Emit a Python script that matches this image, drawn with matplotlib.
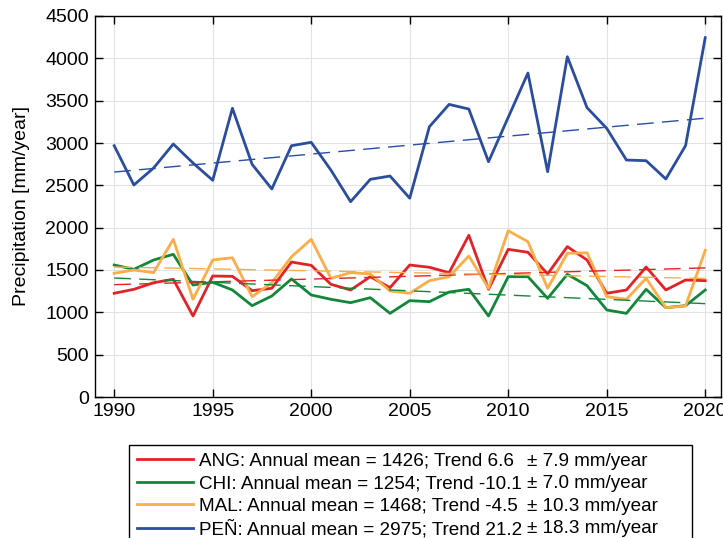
import matplotlib
matplotlib.use("Agg")
import matplotlib.pyplot as plt
from matplotlib.lines import Line2D
import numpy as np

plt.rcParams['font.family'] = ['Liberation Sans', 'DejaVu Sans']

years = list(range(1990, 2021))
ang = [1225, 1272, 1350, 1390, 957, 1429, 1425, 1256, 1284, 1594, 1555, 1331, 1264, 1421, 1291, 1559,
       1532, 1468, 1910, 1272, 1744, 1709, 1453, 1776, 1618, 1225, 1264, 1535, 1264, 1382, 1374]
chi = [1559, 1508, 1618, 1685, 1323, 1355, 1264, 1079, 1193, 1394, 1205, 1154, 1114, 1173, 988, 1138,
       1126, 1240, 1272, 957, 1421, 1421, 1165, 1449, 1315, 1028, 988, 1272, 1055, 1079, 1264]
mal = [1461, 1500, 1469, 1862, 1154, 1618, 1645, 1185, 1350, 1657, 1862, 1402, 1469, 1453, 1252, 1225,
       1374, 1421, 1665, 1284, 1964, 1834, 1284, 1697, 1704, 1185, 1154, 1402, 1055, 1075, 1732]
pen = [2968, 2504, 2705, 2988, 2764, 2560, 3410, 2748, 2457, 2968, 3008, 2680, 2307, 2571, 2610, 2348,
       3193, 3456, 3401, 2779, 3303, 3826, 2661, 4019, 3417, 3173, 2799, 2791, 2575, 2968, 4244]

names = ['ANG', 'CHI', 'MAL', 'PEÑ']
means = [1426, 1254, 1468, 2975]
trends = [6.6, -10.1, -4.5, 21.2]
errs = [7.9, 7.0, 10.3, 18.3]
colors = ['#e42127', '#12873a', '#fbad48', '#2a4d9f']
series = [ang, chi, mal, pen]

fig = plt.figure(figsize=(7.23, 5.38), dpi=100)
ax = fig.add_axes([94.5/723, 1-397/538, (721-94.5)/723, (397-16)/538])

yr = np.array(years, dtype=float)
handles = []
labels = []
for name, vals, m, t, c in zip(names, series, means, trends, colors):
    h, = ax.plot(years, vals, color=c, lw=2.0)
    handles.append(h)
    labels.append(f"{name}: Annual mean = {m}; Trend {t:g}")
for m, t, c in zip(means, trends, colors):
    ax.plot(yr, m + t*(yr - yr.mean()), color=c, lw=1.0, dashes=(12, 6))

# second legend column: the "± error" part, aligned as in the reference
for e in errs:
    handles.append(Line2D([], [], linestyle='none'))
    labels.append(f"\u00b1 {e:.1f} mm/year     ")

ax.set_xlim(1989, 2020.8)
ax.set_ylim(0, 4500)
ax.set_xticks(range(1990, 2021, 5))
ax.set_yticks(range(0, 4501, 500))
ax.grid(True, color='#e3e3e3', lw=0.8)
ax.set_axisbelow(True)
ax.tick_params(direction='in', length=6, top=True, right=True, labelsize=14, width=1, pad=4)
for s in ax.spines.values():
    s.set_linewidth(1.0)
ax.set_ylabel('Precipitation [mm/year]', fontsize=14, labelpad=11)

fs = 13.6
leg = fig.legend(handles=handles, labels=labels, ncol=2, loc='upper left',
                 bbox_to_anchor=(129/723, 1-445/538),
                 bbox_transform=fig.transFigure, fontsize=fs, handlelength=3.0,
                 handletextpad=0.28, labelspacing=0.28, borderpad=0.4, borderaxespad=0,
                 columnspacing=-3.0, fancybox=False, edgecolor='black', framealpha=1)
leg.get_frame().set_linewidth(1.0)

fig.savefig('out.png', dpi=100)
